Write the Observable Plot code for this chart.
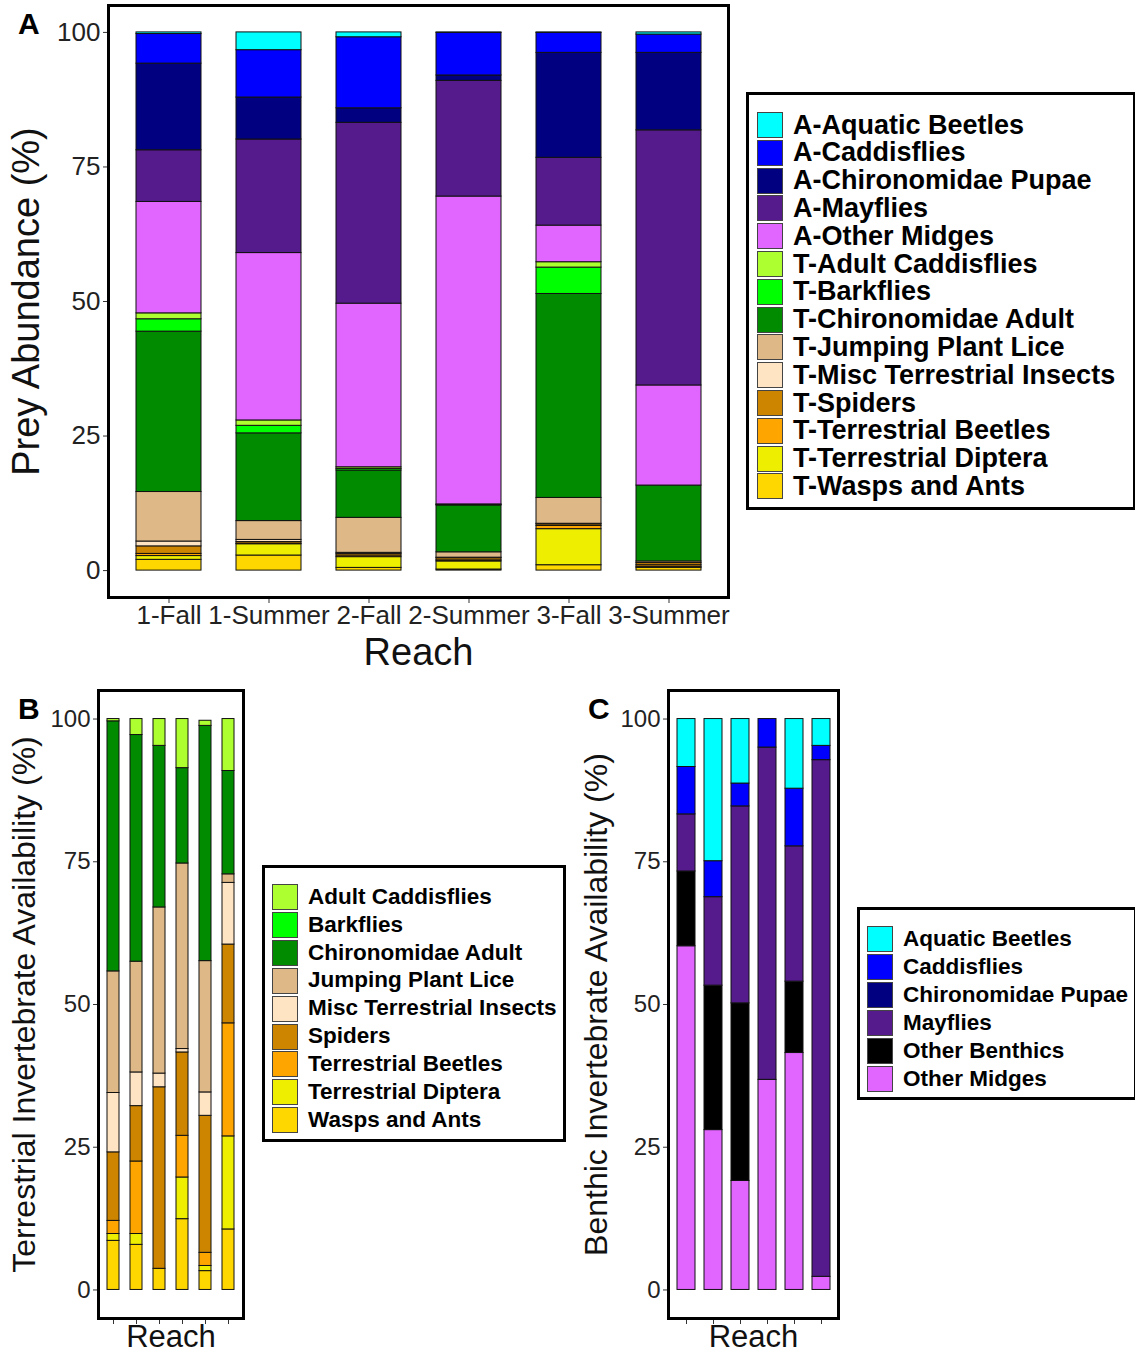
<!DOCTYPE html>
<html><head><meta charset="utf-8">
<script src="https://cdn.jsdelivr.net/npm/d3@7"></script>
<script src="https://cdn.jsdelivr.net/npm/@observablehq/plot@0.6"></script>
<style>
body{margin:0;background:#fff;font-family:"Liberation Sans",Arial,sans-serif;}
#wrap{position:relative;width:1135px;height:1354px;overflow:hidden;background:#fff;}
#wrap svg{position:absolute;overflow:visible;}
.legend{position:absolute;border:3px solid #000;background:#fff;box-sizing:border-box;}
.sw{position:absolute;box-sizing:border-box;border:1px solid #444;}
.lab{position:absolute;font-weight:bold;color:#000;white-space:nowrap;line-height:1;}
.plabel{position:absolute;font-weight:bold;font-size:30px;color:#000;line-height:1;}
</style></head><body><div id="wrap"></div>
<script>
const reaches = ["1-Fall","1-Summer","2-Fall","2-Summer","3-Fall","3-Summer"];

// ---------- Panel A: prey abundance (%) ----------
const preyCategories = ["A-Aquatic Beetles","A-Caddisflies","A-Chironomidae Pupae","A-Mayflies","A-Other Midges",
  "T-Adult Caddisflies","T-Barkflies","T-Chironomidae Adult","T-Jumping Plant Lice","T-Misc Terrestrial Insects",
  "T-Spiders","T-Terrestrial Beetles","T-Terrestrial Diptera","T-Wasps and Ants"];
const preyColors = ["#00FFFF","#0000FF","#000080","#551A8B","#E066FF","#ADFF2F","#00FF00","#008B00",
  "#DEB887","#FFE4C4","#CD8500","#FFA500","#EEEE00","#FFD700"];
const preyAquaticBeetles   = [0.3, 3.3, 0.9, 0.1, 0.1, 0.4];
const preyCaddisflies      = [5.5, 8.8, 13.2, 7.9, 3.7, 3.4];
const preyChiroPupae       = [16.1, 7.8, 2.7, 1.0, 19.5, 14.4];
const preyMayflies         = [9.6, 21.1, 33.6, 21.5, 12.6, 47.4];
const preyOtherMidges      = [20.7, 31.1, 30.4, 57.2, 6.8, 18.6];
const preyAdultCaddisflies = [1.1, 1.0, 0.3, 0.1, 1.0, 0];
const preyBarkflies        = [2.3, 1.4, 0.3, 0.1, 4.9, 0];
const preyChiroAdult       = [29.8, 16.3, 8.8, 8.7, 37.9, 14.1];
const preyPlantLice        = [9.2, 3.5, 6.5, 1.0, 4.8, 0.3];
const preyMiscTerr         = [0.9, 0.4, 0.2, 0.1, 0.1, 0];
const preySpiders          = [1.4, 0.3, 0.3, 0.4, 0.3, 0.4];
const preyTerrBeetles      = [0.4, 0.1, 0.3, 0.2, 0.6, 0.3];
const preyTerrDiptera      = [0.7, 2.1, 2.0, 1.5, 6.7, 0.2];
const preyWaspsAnts        = [2.0, 2.8, 0.5, 0.2, 1.0, 0.5];

// ---------- Panel B: terrestrial availability (%) ----------
const terrCategories = ["Adult Caddisflies","Barkflies","Chironomidae Adult","Jumping Plant Lice",
  "Misc Terrestrial Insects","Spiders","Terrestrial Beetles","Terrestrial Diptera","Wasps and Ants"];
const terrColors = ["#ADFF2F","#00FF00","#008B00","#DEB887","#FFE4C4","#CD8500","#FFA500","#EEEE00","#FFD700"];
const terrAdultCaddisflies = [0.4, 2.8, 4.7, 8.6, 0.9, 9.1];
const terrBarkflies        = [0, 0, 0, 0, 0, 0];
const terrChiroAdult       = [43.8, 39.7, 28.3, 16.7, 41.2, 18.1];
const terrPlantLice        = [21.3, 19.4, 29.1, 32.5, 23.0, 1.5];
const terrMisc             = [10.4, 5.9, 2.4, 0.6, 4.1, 10.8];
const terrSpiders          = [12.0, 9.7, 31.8, 14.6, 24.0, 13.8];
const terrBeetles          = [2.3, 12.7, 0, 7.3, 2.3, 19.8];
const terrDiptera          = [1.2, 1.9, 0, 7.3, 0.9, 16.3];
const terrWaspsAnts        = [8.6, 7.9, 3.7, 12.4, 3.3, 10.6];

// ---------- Panel C: benthic availability (%) ----------
const benthCategories = ["Aquatic Beetles","Caddisflies","Chironomidae Pupae","Mayflies","Other Benthics","Other Midges"];
const benthColors = ["#00FFFF","#0000FF","#000080","#551A8B","#000000","#E066FF"];
const benthAquaticBeetles = [8.4, 24.9, 11.3, 0, 12.2, 4.7];
const benthCaddisflies    = [8.3, 6.3, 4.0, 5.0, 10.1, 2.5];
const benthChiroPupae     = [0, 0, 0, 0, 0, 0];
const benthMayflies       = [10.0, 15.5, 34.5, 58.2, 23.7, 90.5];
const benthOtherBenthics  = [13.1, 25.3, 31.1, 0, 12.5, 0];
const benthOtherMidges    = [60.2, 28.0, 19.1, 36.8, 41.5, 2.3];

const preySeries = [preyAquaticBeetles, preyCaddisflies, preyChiroPupae, preyMayflies, preyOtherMidges,
  preyAdultCaddisflies, preyBarkflies, preyChiroAdult, preyPlantLice, preyMiscTerr, preySpiders,
  preyTerrBeetles, preyTerrDiptera, preyWaspsAnts];
const terrSeries = [terrAdultCaddisflies, terrBarkflies, terrChiroAdult, terrPlantLice, terrMisc,
  terrSpiders, terrBeetles, terrDiptera, terrWaspsAnts];
const benthSeries = [benthAquaticBeetles, benthCaddisflies, benthChiroPupae, benthMayflies,
  benthOtherBenthics, benthOtherMidges];

function longData(cats, series) {
  const out = [];
  // bottom of stack first: last legend entry first
  for (let i = cats.length - 1; i >= 0; i--)
    reaches.forEach((r, j) => { if (series[i][j] > 0) out.push({reach: r, cat: cats[i], value: series[i][j]}); });
  return out;
}

const FONT = '"Liberation Sans", Arial, Helvetica, sans-serif';

function makePanel(o) {
  const svg = Plot.plot({
    width: o.width, height: o.height,
    marginLeft: o.ml, marginRight: o.mr, marginTop: o.mt, marginBottom: o.mb,
    style: {fontFamily: FONT, color: "#222", background: "transparent", overflow: "visible"},
    x: {domain: reaches, paddingInner: o.pi, paddingOuter: o.po},
    y: {domain: [-5, 105]},
    color: {domain: o.cats, range: o.colors},
    marks: [
      Plot.barY(o.data, {x: "reach", y: "value", fill: "cat", order: o.cats.slice().reverse(),
        stroke: "#111", strokeWidth: 1, inset: 0}),
      Plot.axisY({ticks: [0, 25, 50, 75, 100], tickSize: 5, tickPadding: 3, fontSize: o.tickFont, label: null, stroke: "#333"}),
      Plot.axisY({ticks: [50], tickSize: 0, tickFormat: () => "", label: o.ylabel, labelAnchor: "center",
        labelOffset: o.ylo, fontSize: o.labelFont, fill: "#111", labelArrow: "none"}),
      Plot.axisX({tickSize: 6, tickPadding: 2, fontSize: o.tickFont, tickFormat: o.xticks ? undefined : () => "",
        label: null, stroke: "#333"}),
      Plot.axisX({tickSize: 0, tickFormat: () => "", label: "Reach", labelAnchor: "center",
        labelOffset: o.xlo, fontSize: o.xLabelFont, fill: "#111", labelArrow: "none"}),
      Plot.frame({stroke: "#000", strokeWidth: 3})
    ]
  });
  svg.style.left = o.left + "px";
  svg.style.top = o.top + "px";
  return svg;
}

const wrap = document.getElementById("wrap");

wrap.appendChild(makePanel({
  left: 0, top: 0, width: 745, height: 672, ml: 108, mr: 17, mt: 5, mb: 75,
  pi: 0.35, po: 0.275, cats: preyCategories, colors: preyColors, data: longData(preyCategories, preySeries),
  tickFont: 26, labelFont: 38, xLabelFont: 38, ylabel: "Prey Abundance (%)", ylo: 96, xlo: 67, xticks: true
}));
wrap.appendChild(makePanel({
  left: 0, top: 680, width: 255, height: 674, ml: 98, mr: 12, mt: 10, mb: 36,
  pi: 0.5, po: 0.35, cats: terrCategories, colors: terrColors, data: longData(terrCategories, terrSeries),
  tickFont: 24, labelFont: 32, xLabelFont: 31, ylabel: "Terrestrial Invertebrate Availability (%)", ylo: 86, xlo: 28, xticks: false
}));
wrap.appendChild(makePanel({
  left: 570, top: 680, width: 280, height: 674, ml: 98, mr: 12, mt: 10, mb: 36,
  pi: 0.35, po: 0.275, cats: benthCategories, colors: benthColors, data: longData(benthCategories, benthSeries),
  tickFont: 24, labelFont: 32, xLabelFont: 31, ylabel: "Benthic Invertebrate Availability (%)", ylo: 84, xlo: 28, xticks: false
}));

function legend(o) {
  const box = document.createElement("div");
  box.className = "legend";
  Object.assign(box.style, {left: o.left + "px", top: o.top + "px", width: o.width + "px", height: o.height + "px"});
  wrap.appendChild(box);
  o.cats.forEach((c, i) => {
    const y = o.firstTop + i * o.step;
    const sw = document.createElement("div");
    sw.className = "sw";
    Object.assign(sw.style, {left: o.swLeft + "px", top: y + "px", width: o.swW + "px", height: o.swH + "px", background: o.colors[i]});
    wrap.appendChild(sw);
    const t = document.createElement("div");
    t.className = "lab";
    t.textContent = c;
    Object.assign(t.style, {left: o.textLeft + "px", top: (y + o.swH / 2 - o.font * 0.5) + "px", fontSize: o.font + "px", height: o.font + "px"});
    wrap.appendChild(t);
  });
}

legend({left: 746, top: 92, width: 390, height: 418, cats: preyCategories, colors: preyColors,
  firstTop: 112, step: 27.8, swLeft: 757, swW: 26, swH: 26, textLeft: 793, font: 27});
legend({left: 262, top: 865, width: 304, height: 277, cats: terrCategories, colors: terrColors,
  firstTop: 884, step: 27.9, swLeft: 272, swW: 26, swH: 26, textLeft: 308, font: 22.5});
legend({left: 857, top: 907, width: 280, height: 193, cats: benthCategories, colors: benthColors,
  firstTop: 926, step: 28, swLeft: 867, swW: 26, swH: 26, textLeft: 903, font: 22.5});

[["A", 18, 9], ["B", 18, 694], ["C", 588, 694]].forEach(([t, x, y]) => {
  const d = document.createElement("div");
  d.className = "plabel"; d.textContent = t;
  d.style.left = x + "px"; d.style.top = y + "px";
  wrap.appendChild(d);
});
</script></body></html>
